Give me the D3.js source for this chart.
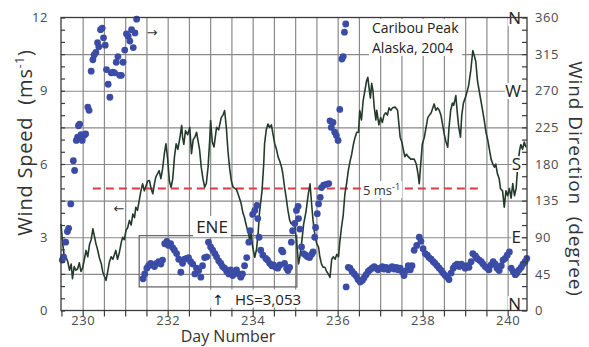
<!DOCTYPE html>
<html>
<head>
<meta charset="utf-8">
<script src="https://cdn.jsdelivr.net/npm/d3@7"></script>
<style>
  body { margin: 0; background: #fff; }
  svg { display: block; font-family: "Open Sans", sans-serif; }
</style>
</head>
<body>
<script>
// wind speed (m/s) against day number, drawn as the line
var windSpeed = [
  [229.49,3.55],[229.53,2.74],[229.56,2.3],[229.61,2.18],[229.65,2.0],[229.69,1.65],[229.73,1.9],[229.76,1.3],
  [229.8,1.8],[229.84,1.65],[229.88,1.7],[229.92,1.95],[229.96,1.6],[230.0,1.75],[230.04,2.1],[230.08,2.46],
  [230.12,2.2],[230.16,2.7],[230.2,2.9],[230.24,3.35],[230.27,3.1],[230.31,2.75],[230.35,2.5],[230.39,2.18],
  [230.44,1.9],[230.47,1.6],[230.51,1.4],[230.55,1.23],[230.59,1.6],[230.63,2.0],[230.67,2.2],[230.71,2.1],
  [230.75,2.3],[230.78,2.46],[230.82,2.1],[230.86,2.35],[230.91,2.8],[230.94,3.0],[230.98,2.9],[231.02,3.28],
  [231.06,3.4],[231.1,3.69],[231.14,3.5],[231.18,3.95],[231.22,3.8],[231.25,4.23],[231.29,4.1],[231.33,4.5],
  [231.37,4.9],[231.41,5.19],[231.45,4.9],[231.49,5.1],[231.53,5.3],[231.57,5.32],[231.61,5.0],[231.65,4.78],
  [231.69,5.2],[231.72,5.46],[231.76,5.6],[231.8,5.73],[231.84,5.4],[231.88,5.8],[231.92,6.4],[231.96,6.83],
  [232.0,6.2],[232.04,5.3],[232.08,5.05],[232.12,5.4],[232.16,6.3],[232.2,6.83],[232.24,6.6],[232.28,7.0],
  [232.33,7.58],[232.35,7.1],[232.38,6.8],[232.42,7.37],[232.47,7.2],[232.52,7.5],[232.56,6.42],[232.6,7.0],
  [232.64,7.1],[232.68,7.3],[232.71,7.0],[232.75,6.6],[232.79,5.87],[232.83,5.4],[232.87,5.05],[232.91,5.2],
  [232.95,5.87],[232.99,7.0],[233.01,7.78],[233.05,6.9],[233.09,6.7],[233.15,7.5],[233.2,7.4],[233.26,7.9],
  [233.3,8.0],[233.34,8.19],[233.38,7.5],[233.42,6.5],[233.46,5.8],[233.5,5.3],[233.54,5.05],[233.58,5.0],
  [233.62,4.95],[233.65,4.8],[233.69,4.6],[233.73,4.37],[233.77,4.0],[233.81,3.8],[233.84,3.55],[233.88,3.28],
  [233.91,3.1],[233.93,2.85],[233.96,3.2],[234.0,2.6],[234.05,2.18],[234.09,2.5],[234.13,3.2],[234.16,4.0],
  [234.22,4.9],[234.26,6.0],[234.28,6.83],[234.32,7.4],[234.36,7.64],[234.4,7.5],[234.44,7.6],[234.48,7.2],
  [234.52,6.83],[234.56,6.6],[234.6,6.28],[234.64,6.1],[234.68,5.87],[234.71,5.6],[234.75,5.05],[234.79,4.6],
  [234.83,4.1],[234.87,3.7],[234.91,3.55],[234.95,3.6],[234.99,3.55],[235.02,3.0],[235.05,2.5],[235.08,1.91],
  [235.11,2.2],[235.15,2.73],[235.2,3.55],[235.25,4.0],[235.31,4.78],[235.35,5.19],[235.39,4.3],[235.42,3.7],
  [235.47,3.0],[235.51,2.73],[235.55,2.6],[235.58,2.2],[235.62,1.9],[235.66,1.77],[235.7,1.77],[235.74,1.6],
  [235.78,1.5],[235.82,1.36],[235.86,2.1],[235.9,2.2],[235.94,2.1],[235.98,2.3],[236.02,2.2],[236.05,2.8],
  [236.09,3.41],[236.13,3.9],[236.17,4.78],[236.21,5.2],[236.25,5.73],[236.29,6.1],[236.33,6.4],[236.37,6.8],
  [236.41,7.1],[236.45,7.3],[236.49,7.3],[236.52,8.19],[236.56,7.8],[236.6,8.6],[236.64,9.0],[236.68,9.4],
  [236.71,9.55],[236.74,9.1],[236.77,8.7],[236.8,9.3],[236.83,9.0],[236.86,8.33],[236.9,7.8],[236.92,8.2],
  [236.97,7.6],[237.01,7.9],[237.05,7.7],[237.09,8.0],[237.13,8.1],[237.17,8.0],[237.21,8.3],[237.25,8.2],
  [237.29,8.3],[237.35,8.33],[237.41,8.2],[237.47,7.1],[237.51,6.9],[237.55,6.55],[237.58,6.3],[237.62,6.4],
  [237.66,6.3],[237.72,6.2],[237.8,6.2],[237.85,6.0],[237.89,5.6],[237.92,5.19],[237.95,5.9],[237.99,6.8],
  [238.04,7.1],[238.08,7.5],[238.12,7.9],[238.16,8.0],[238.2,8.1],[238.24,8.3],[238.27,8.46],[238.31,8.2],
  [238.35,8.3],[238.39,8.2],[238.43,8.0],[238.47,7.6],[238.51,7.2],[238.55,6.9],[238.59,6.69],[238.62,7.5],
  [238.66,8.2],[238.7,8.5],[238.73,8.4],[238.78,8.8],[238.82,8.0],[238.85,7.5],[238.89,7.1],[238.92,8.0],
  [238.96,8.5],[239.02,8.8],[239.08,9.2],[239.13,9.8],[239.18,10.65],[239.22,10.4],[239.25,10.2],[239.29,9.4],
  [239.33,9.0],[239.37,8.6],[239.41,8.2],[239.45,7.78],[239.49,7.3],[239.53,7.0],[239.57,6.6],[239.61,6.2],
  [239.65,6.0],[239.69,5.87],[239.72,6.0],[239.76,5.6],[239.8,5.4],[239.83,5.0],[239.88,4.9],[239.92,4.23],
  [239.96,4.9],[240.0,4.7],[240.04,5.0],[240.08,4.6],[240.12,5.2],[240.16,4.7],[240.2,5.0],[240.24,6.0],
  [240.28,6.55],[240.31,6.8],[240.35,6.6],[240.39,6.9],[240.43,6.69]
];

// wind direction (degrees) against day number, drawn as dots
var windDir = [
  [229.52,62],[229.55,66],[229.6,84],[229.64,97],[229.67,101],[229.72,131],[229.78,184],[229.81,172],
  [229.85,209],[229.88,213],[229.9,227],[229.93,229],[229.96,216],[229.99,209],[230.03,215],[230.07,217],
  [230.12,250],[230.15,246],[230.2,294],[230.24,308],[230.27,314],[230.31,317],[230.35,329],[230.38,324],
  [230.42,345],[230.46,347],[230.49,335],[230.53,326],[230.56,296],[230.6,278],[230.64,262],[230.67,292],
  [230.71,293],[230.75,292],[230.79,305],[230.83,312],[230.87,289],[230.91,289],[230.95,305],[230.99,320],
  [231.03,340],[231.07,337],[231.11,331],[231.15,345],[231.19,323],[231.23,341],[231.27,358],
  [231.42,39],[231.46,45],[231.51,52],[231.55,55],[231.6,58],[231.65,56],[231.69,54],[231.74,58],
  [231.79,60],[231.84,57],[231.88,62],[231.93,82],[231.98,85],[232.02,80],[232.07,82],[232.12,77],
  [232.16,74],[232.21,70],[232.26,63],[232.31,47],[232.35,58],[232.4,63],[232.45,64],[232.49,65],
  [232.54,60],[232.59,57],[232.64,45],[232.68,52],[232.73,49],[232.78,41],[232.82,55],[232.87,65],
  [232.92,66],[232.96,84],[233.01,78],[233.06,74],[233.11,70],[233.15,66],[233.2,61],[233.25,58],
  [233.29,54],[233.34,52],[233.39,48],[233.44,45],[233.48,50],[233.53,43],[233.58,47],[233.62,50],
  [233.67,45],[233.72,41],[233.76,45],[233.81,55],[233.86,65],[233.91,84],[233.94,98],[234.0,118],
  [234.05,123],[234.1,129],[234.12,113],[234.15,90],[234.19,74],[234.24,68],[234.31,64],[234.35,62],
  [234.4,58],[234.45,55],[234.49,56],[234.54,53],[234.59,52],[234.64,56],[234.68,74],[234.71,72],
  [234.75,58],[234.8,52],[234.83,49],[234.87,53],[234.91,84],[234.94,98],[234.99,107],[235.03,123],
  [235.07,128],[235.08,113],[235.11,100],[235.15,78],[235.2,70],[235.25,68],[235.29,66],[235.34,65],
  [235.39,69],[235.42,72],[235.46,90],[235.48,102],[235.52,119],[235.55,131],[235.59,139],[235.62,151],
  [235.67,154],[235.73,155],[235.79,156],[235.82,233],[235.85,225],[235.89,231],[235.93,219],[235.97,215],
  [236.01,209],[236.05,247],[236.1,309],[236.13,312],[236.16,342],[236.19,352],[236.2,29],
  [236.25,53],[236.29,52],[236.34,48],[236.39,45],[236.44,42],[236.48,38],[236.53,35],[236.58,37],
  [236.62,40],[236.67,44],[236.72,48],[236.76,50],[236.81,52],[236.86,54],[236.91,52],[236.95,50],
  [237.0,52],[237.05,54],[237.09,51],[237.14,53],[237.19,50],[237.24,52],[237.28,54],[237.33,51],
  [237.38,53],[237.42,50],[237.47,52],[237.52,48],[237.56,43],[237.61,49],[237.66,55],[237.71,50],
  [237.75,55],[237.8,74],[237.86,80],[237.92,90],[237.96,85],[238.01,76],[238.06,70],[238.11,68],
  [238.15,65],[238.2,63],[238.25,60],[238.29,58],[238.34,55],[238.39,52],[238.44,49],[238.48,46],
  [238.53,43],[238.58,41],[238.62,38],[238.67,46],[238.72,52],[238.76,55],[238.81,57],[238.86,54],
  [238.91,57],[238.95,55],[239.0,52],[239.05,55],[239.09,53],[239.14,60],[239.18,70],[239.24,67],
  [239.28,64],[239.33,62],[239.38,60],[239.42,57],[239.47,54],[239.52,52],[239.56,50],[239.61,56],
  [239.66,60],[239.71,57],[239.75,52],[239.8,49],[239.85,55],[239.89,62],[239.94,64],[239.99,68],
  [240.04,72],[240.08,52],[240.13,48],[240.18,44],[240.22,46],[240.27,50],[240.32,53],[240.36,57],
  [240.41,60],[240.45,64]
];

var dayTicks = [230, 232, 234, 236, 238, 240];
var speedTicks = [0, 3, 6, 9, 12];
var dirTicks = [0, 45, 90, 135, 180, 225, 270, 315, 360];
var compass = [["N", 0], ["E", 90], ["S", 180], ["W", 270], ["N", 360]];
var threshold = 5;           // m/s, dashed red line
var thresholdSpan = [230.24, 239.38];
var eneBox = { days: [231.33, 235.04], deg: [29, 92] };

var width = 589, height = 347;

var svg = d3.select("body").append("svg")
    .attr("width", width)
    .attr("height", height);

var x = d3.scaleLinear().domain([229.49, 240.455]).range([61, 527]);
var ySpeed = d3.scaleLinear().domain([0, 12]).range([310.5, 17.5]);
var yDir = d3.scaleLinear().domain([0, 360]).range([310.5, 17.5]);

var plotTop = ySpeed(12), plotBottom = ySpeed(0),
    plotLeft = x.range()[0], plotRight = x.range()[1];

// grid
var grid = svg.append("g").attr("class", "grid");
grid.append("g")
    .attr("transform", "translate(0," + plotBottom + ")")
    .call(d3.axisBottom(x).tickValues(d3.range(230, 240.01, 0.5))
        .tickSize(-(plotBottom - plotTop)).tickFormat(""));
grid.append("g")
    .attr("transform", "translate(" + plotLeft + ",0)")
    .call(d3.axisLeft(ySpeed).tickValues(d3.range(1.5, 11, 1.5))
        .tickSize(-(plotRight - plotLeft)).tickFormat(""));
grid.selectAll(".domain").remove();
grid.selectAll("line").attr("stroke", "#8a8a8a").attr("stroke-width", 1.2);

// ENE box
svg.append("rect")
    .attr("x", x(eneBox.days[0]))
    .attr("y", yDir(eneBox.deg[1]))
    .attr("width", x(eneBox.days[1]) - x(eneBox.days[0]))
    .attr("height", yDir(eneBox.deg[0]) - yDir(eneBox.deg[1]))
    .attr("fill", "none")
    .attr("stroke", "#6b6b6b")
    .attr("stroke-width", 1.3);

// 5 m/s threshold
svg.append("line")
    .attr("x1", x(thresholdSpan[0])).attr("x2", x(thresholdSpan[1]))
    .attr("y1", ySpeed(threshold)).attr("y2", ySpeed(threshold))
    .attr("stroke", "#dd3b44")
    .attr("stroke-width", 2)
    .attr("stroke-dasharray", "8,5");

// wind speed line
var line = d3.line()
    .x(function (d) { return x(d[0]); })
    .y(function (d) { return ySpeed(d[1]); });

svg.append("path")
    .datum(windSpeed)
    .attr("d", line)
    .attr("fill", "none")
    .attr("stroke", "#243b2c")
    .attr("stroke-width", 1.6)
    .attr("stroke-linejoin", "round");

// wind direction dots
svg.append("g")
    .selectAll("circle")
    .data(windDir)
    .enter().append("circle")
    .attr("cx", function (d) { return x(d[0]); })
    .attr("cy", function (d) { return yDir(d[1]); })
    .attr("r", 3.4)
    .attr("fill", "#3b4ca6");

// labels with a white patch behind them
function label(g, pad) {
    var b = g.node().getBBox();
    g.insert("rect", ":first-child")
        .attr("x", b.x - pad).attr("y", b.y + 1)
        .attr("width", b.width + 2 * pad).attr("height", b.height - 2)
        .attr("fill", "#fff");
    return g;
}

var t5 = svg.append("g");
var t5t = t5.append("text").attr("x", 363).attr("y", 195)
    .attr("font-size", 13).attr("fill", "#333");
t5t.append("tspan").text("5 ms");
t5t.append("tspan").attr("font-size", 9).attr("dy", -5).text("-1");
label(t5, 2);

var ene = svg.append("g");
ene.append("text").attr("x", 212).attr("y", 233)
    .attr("text-anchor", "middle").attr("font-size", 17).attr("fill", "#222").text("ENE");
label(ene, 3);

var hs = svg.append("g");
hs.append("text").attr("x", 218).attr("y", 305)
    .attr("text-anchor", "middle").attr("font-size", 14)
    .attr("font-family", "DejaVu Sans").attr("fill", "#222").text("\u2191");
hs.append("text").attr("x", 235).attr("y", 304.5)
    .attr("font-size", 15).attr("fill", "#222").text("HS=3,053");
label(hs, 2);

var site = svg.append("g");
site.append("text").attr("x", 372).attr("y", 33).attr("font-size", 14).attr("fill", "#222").text("Caribou Peak");
site.append("text").attr("x", 372).attr("y", 53).attr("font-size", 14).attr("fill", "#222").text("Alaska, 2004");
label(site, 3);

svg.append("text").attr("x", 152).attr("y", 37)
    .attr("text-anchor", "middle").attr("font-size", 13).attr("font-family", "DejaVu Sans")
    .attr("fill", "#333").text("\u2192");
svg.append("text").attr("x", 119).attr("y", 213)
    .attr("text-anchor", "middle").attr("font-size", 13).attr("font-family", "DejaVu Sans")
    .attr("fill", "#333").text("\u2190");

// compass letters at the right edge
svg.append("g")
    .selectAll("text")
    .data(compass)
    .enter().append("text")
    .attr("x", plotRight - 6)
    .attr("y", function (d) { return yDir(d[1]) + (d[1] === 0 ? -7 : 0); })
    .attr("dy", "0.36em")
    .attr("text-anchor", "end")
    .attr("font-size", 17)
    .attr("fill", "#222")
    .attr("stroke", "#fff")
    .attr("stroke-width", 4)
    .attr("paint-order", "stroke")
    .text(function (d) { return d[0]; });

// frame
svg.append("rect")
    .attr("x", plotLeft).attr("y", plotTop)
    .attr("width", plotRight - plotLeft).attr("height", plotBottom - plotTop)
    .attr("fill", "none").attr("stroke", "#3a3a3a").attr("stroke-width", 1.3);

// axes
var axes = svg.append("g").attr("fill", "#444");

axes.append("g")
    .attr("transform", "translate(" + plotLeft + ",0)")
    .call(d3.axisLeft(ySpeed).tickValues(d3.range(0, 12.01, 0.5)).tickSize(-4).tickFormat(""));
axes.append("g")
    .attr("transform", "translate(" + plotLeft + ",0)")
    .call(d3.axisLeft(ySpeed).tickValues(speedTicks).tickSize(0).tickPadding(13));

axes.append("g")
    .attr("transform", "translate(" + plotRight + ",0)")
    .call(d3.axisRight(yDir).tickValues(d3.range(0, 360.1, 15)).tickSize(-5).tickFormat(""));
axes.append("g")
    .attr("transform", "translate(" + plotRight + ",0)")
    .call(d3.axisRight(yDir).tickValues(dirTicks).tickSize(0).tickPadding(8));

axes.append("g")
    .attr("transform", "translate(0," + plotBottom + ")")
    .call(d3.axisBottom(x).tickValues(d3.range(229.5, 240.01, 0.5)).tickSize(6).tickFormat(""));
axes.append("g")
    .attr("transform", "translate(0," + plotBottom + ")")
    .call(d3.axisBottom(x).tickValues(dayTicks).tickSize(0).tickPadding(5));

axes.selectAll(".domain").remove();
axes.selectAll(".tick line").attr("stroke", "#3a3a3a").attr("stroke-width", 1.2);
axes.selectAll(".tick text")
    .attr("font-family", "Open Sans, sans-serif")
    .attr("font-size", 13)
    .attr("letter-spacing", 0.6)
    .attr("fill", "#4a4a4a");

// axis titles
var yt = svg.append("text")
    .attr("transform", "translate(32," + ((35 + 250) / 2) + ") rotate(-90)")
    .attr("text-anchor", "middle")
    .attr("font-size", 20)
    .attr("letter-spacing", 0.8)
    .attr("fill", "#333");
yt.append("tspan").text("Wind Speed\u00a0\u00a0(ms");
yt.append("tspan").attr("font-size", 12).attr("dy", -8).text("-1");
yt.append("tspan").attr("dy", 8).text(")");

svg.append("text")
    .attr("transform", "translate(569," + ((48 + 310) / 2) + ") rotate(90)")
    .attr("text-anchor", "middle")
    .attr("font-size", 19)
    .attr("letter-spacing", 0.9)
    .attr("fill", "#333")
    .text("Wind Direction\u00a0\u00a0(degree)");

svg.append("text")
    .attr("x", 228).attr("y", 342)
    .attr("text-anchor", "middle")
    .attr("font-size", 16)
    .attr("fill", "#333")
    .text("Day Number");
</script>
</body>
</html>
